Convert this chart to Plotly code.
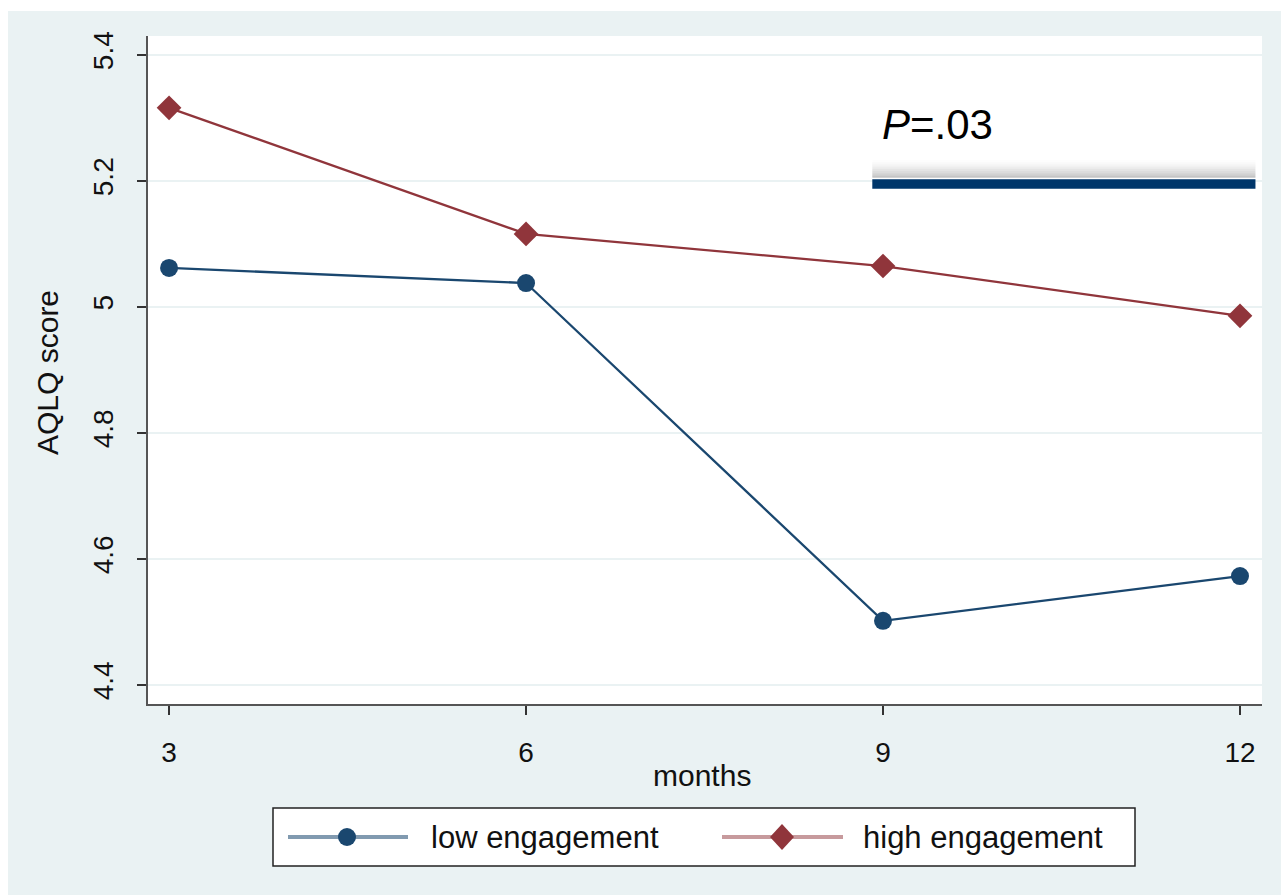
import plotly.graph_objects as go

# ---- data ----
months = [3, 6, 9, 12]
low_engagement = [5.062, 5.038, 4.502, 4.573]
high_engagement = [5.316, 5.116, 5.065, 4.986]
y_ticks = [4.4, 4.6, 4.8, 5.0, 5.2, 5.4]
y_tick_labels = ["4.4", "4.6", "4.8", "5", "5.2", "5.4"]
x_ticks = [3, 6, 9, 12]
sig_x = [8.91, 12.13]
sig_y = 5.195
p_label = "<i>P</i>=.03"

NAVY = "#1A476F"
MAROON = "#90353B"
BG = "#EAF2F3"
FONT = "Liberation Sans, Arial, Helvetica, sans-serif"

fig = go.Figure()
fig.add_trace(go.Scatter(
    x=months, y=low_engagement, mode="lines+markers", name="low engagement",
    line=dict(color=NAVY, width=2.3), marker=dict(symbol="circle", size=18, color=NAVY),
    showlegend=False))
fig.add_trace(go.Scatter(
    x=months, y=high_engagement, mode="lines+markers", name="high engagement",
    line=dict(color=MAROON, width=2.3), marker=dict(symbol="diamond", size=19, color=MAROON),
    showlegend=False))

shapes = []
# white page strips (top caption area / left edge)
shapes.append(dict(type="rect", xref="paper", yref="paper", x0=-0.2, x1=1.1,
                   y0=1 + (36 - 11) / 668, y1=1.1, fillcolor="white", line_width=0, layer="below"))
shapes.append(dict(type="rect", xref="paper", yref="paper", x0=-0.2, x1=(8 - 148) / 1114,
                   y0=-0.4, y1=1.1, fillcolor="white", line_width=0, layer="below"))

# significance bar with soft grey shadow above
n = 10
for i in range(n):
    frac = i / n
    shapes.append(dict(type="rect", xref="x", yref="y", x0=sig_x[0], x1=sig_x[1],
                       y0=sig_y + 0.010 + 0.028 * frac, y1=sig_y + 0.010 + 0.028 * (frac + 1 / n),
                       fillcolor="rgba(150,150,150,%.3f)" % (0.55 * (1 - frac) ** 1.5),
                       line_width=0))
shapes.append(dict(type="rect", xref="x", yref="y", x0=sig_x[0], x1=sig_x[1],
                   y0=sig_y - 0.0075, y1=sig_y + 0.0075, fillcolor="#00366A", line_width=0))

# manual legend
def px(xp):
    return (xp - 148) / 1114

def py(yp):
    return (704 - yp) / 668

shapes.append(dict(type="rect", xref="paper", yref="paper", x0=px(273), x1=px(1135),
                   y0=py(866), y1=py(808), fillcolor="white", line=dict(color="#222", width=1.5)))
ly = py(837)
shapes.append(dict(type="line", xref="paper", yref="paper", x0=px(288), x1=px(408), y0=ly, y1=ly,
                   line=dict(color="rgba(26,71,111,0.55)", width=4)))
shapes.append(dict(type="line", xref="paper", yref="paper", x0=px(722), x1=px(843), y0=ly, y1=ly,
                   line=dict(color="rgba(144,53,59,0.5)", width=4)))
shapes.append(dict(type="circle", xref="paper", yref="paper", xsizemode="pixel", ysizemode="pixel",
                   xanchor=px(347), yanchor=ly, x0=-9, x1=9, y0=-9, y1=9,
                   fillcolor=NAVY, line_width=0))
shapes.append(dict(type="path", xref="paper", yref="paper", xsizemode="pixel", ysizemode="pixel",
                   xanchor=px(782), yanchor=ly, path="M -12 0 L 0 13 L 12 0 L 0 -13 Z",
                   fillcolor=MAROON, line_width=0))

annotations = [
    dict(text=p_label, x=8.975, y=5.289, xref="x", yref="y", showarrow=False,
         xanchor="left", yanchor="middle", font=dict(size=42, color="black", family=FONT)),
    dict(text="low engagement", x=px(429), y=ly, xref="paper", yref="paper", showarrow=False,
         xanchor="left", yanchor="middle", font=dict(size=31, color="#111", family=FONT)),
    dict(text="high engagement", x=px(861), y=ly, xref="paper", yref="paper", showarrow=False,
         xanchor="left", yanchor="middle", font=dict(size=31, color="#111", family=FONT)),
    dict(text="months", x=px(702), y=py(775), xref="paper", yref="paper", showarrow=False,
         xanchor="center", yanchor="middle", font=dict(size=30, color="#111", family=FONT)),
    dict(text="AQLQ score", x=px(48), y=py(373), xref="paper", yref="paper", showarrow=False,
         textangle=-90, xanchor="center", yanchor="middle", font=dict(size=30, color="#111", family=FONT)),
]

fig.update_layout(
    width=1281, height=895,
    margin=dict(l=148, r=19, t=36, b=191, pad=0),
    paper_bgcolor=BG, plot_bgcolor="white",
    font=dict(family=FONT, color="#111"),
    shapes=shapes, annotations=annotations,
    xaxis=dict(range=[2.823, 12.185], tickvals=x_ticks, ticks="outside", ticklen=9, tickwidth=1.5,
               tickcolor="#333", showgrid=False, zeroline=False, showline=True, linecolor="#555",
               linewidth=2, tickfont=dict(size=28, color="#111"), ticklabelstandoff=13),
    yaxis=dict(range=[4.37, 5.43], tickvals=y_ticks, ticktext=y_tick_labels, ticks="outside",
               ticklen=9, tickwidth=1.5, tickcolor="#333", tickangle=-90, showgrid=True,
               gridcolor=BG, gridwidth=2, zeroline=False, showline=True, linecolor="#555",
               linewidth=2, tickfont=dict(size=28, color="#111"), ticklabelstandoff=13),
)

fig.write_html("out.html", config={"displayModeBar": False},
               post_script="document.body.style.margin='0';")
